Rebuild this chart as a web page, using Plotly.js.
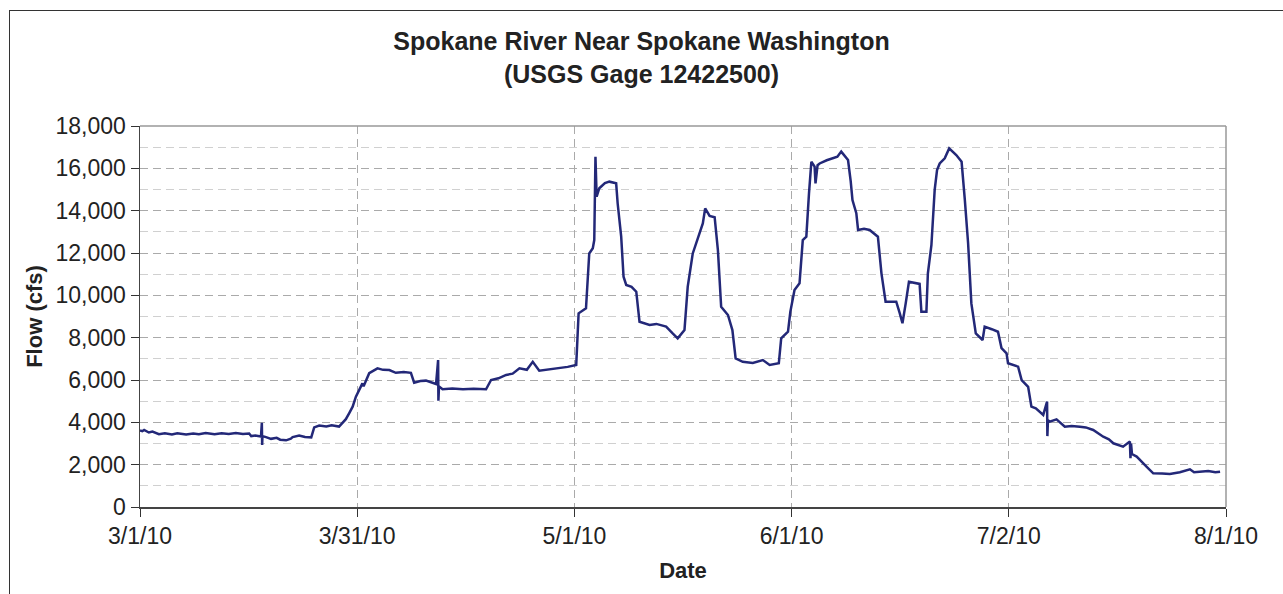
<!DOCTYPE html>
<html>
<head>
<meta charset="utf-8">
<script src="https://cdn.plot.ly/plotly-3.0.1.min.js"></script>
<style>
  html, body { margin: 0; padding: 0; background: #fff; overflow: hidden; }
  #chart { width: 1283px; height: 594px; }
  #frame { position: absolute; left: 9px; top: 10px; width: 2000px; height: 2000px;
           border-top: 1px solid #333; border-left: 1px solid #333; pointer-events: none; }
</style>
</head>
<body>
<div id="chart"></div>
<div id="frame"></div>
<script>
const dates = [
'2010-03-01 00:00','2010-03-01 08:00','2010-03-01 14:00','2010-03-02 06:00','2010-03-02 18:00',
'2010-03-03 16:00','2010-03-04 12:00','2010-03-05 12:00','2010-03-06 06:00','2010-03-07 12:00',
'2010-03-08 12:00','2010-03-09 07:00','2010-03-10 06:00','2010-03-11 12:00','2010-03-12 12:00',
'2010-03-13 12:00','2010-03-14 12:00','2010-03-15 12:00','2010-03-16 09:00','2010-03-16 16:00',
'2010-03-17 06:00','2010-03-18 01:00','2010-03-18 04:00','2010-03-18 05:00','2010-03-18 06:00',
'2010-03-18 18:00','2010-03-19 11:00','2010-03-20 06:00','2010-03-20 18:00','2010-03-21 14:00',
'2010-03-22 06:00','2010-03-22 12:00','2010-03-23 10:00','2010-03-24 06:00','2010-03-25 03:00',
'2010-03-25 13:00','2010-03-26 06:00','2010-03-27 06:00','2010-03-28 00:00','2010-03-29 01:00',
'2010-03-30 00:00','2010-03-30 12:00','2010-03-30 23:00','2010-03-31 10:00','2010-04-01 08:00',
'2010-04-01 12:00','2010-04-02 07:00','2010-04-03 11:00','2010-04-04 06:00','2010-04-05 03:00',
'2010-04-06 01:00','2010-04-07 04:00','2010-04-08 04:00','2010-04-08 15:00','2010-04-09 12:00',
'2010-04-10 07:00','2010-04-11 17:00','2010-04-12 00:00','2010-04-12 01:00','2010-04-12 03:00',
'2010-04-12 15:00','2010-04-14 00:00','2010-04-15 12:00','2010-04-17 00:00','2010-04-18 18:00',
'2010-04-19 11:00','2010-04-20 12:00','2010-04-21 14:00','2010-04-22 12:00','2010-04-23 11:00',
'2010-04-24 12:00','2010-04-25 08:00','2010-04-26 06:00','2010-04-27 12:00','2010-04-29 02:00',
'2010-04-30 06:00','2010-05-01 11:00','2010-05-01 19:00','2010-05-02 20:00','2010-05-03 07:00',
'2010-05-03 19:00','2010-05-04 00:00','2010-05-04 04:00','2010-05-04 08:00','2010-05-04 17:00',
'2010-05-05 12:00','2010-05-06 03:00','2010-05-07 02:00','2010-05-07 07:00','2010-05-07 19:00',
'2010-05-08 03:00','2010-05-08 12:00','2010-05-09 06:00','2010-05-09 22:00','2010-05-10 09:00',
'2010-05-11 19:00','2010-05-12 18:00','2010-05-14 03:00','2010-05-15 01:00','2010-05-15 18:00',
'2010-05-16 17:00','2010-05-17 04:00','2010-05-17 21:00','2010-05-18 14:00','2010-05-19 07:00',
'2010-05-19 15:00','2010-05-20 06:00','2010-05-20 23:00','2010-05-21 10:00','2010-05-21 21:00',
'2010-05-22 20:00','2010-05-23 11:00','2010-05-23 22:00','2010-05-24 22:00','2010-05-26 08:00',
'2010-05-27 18:00','2010-05-28 17:00','2010-05-30 00:00','2010-05-30 08:00','2010-05-31 07:00',
'2010-05-31 15:00','2010-06-01 05:00','2010-06-01 22:00','2010-06-02 09:00','2010-06-02 21:00',
'2010-06-03 06:00','2010-06-03 14:00','2010-06-04 01:00','2010-06-04 04:00','2010-06-04 11:00',
'2010-06-04 18:00','2010-06-05 18:00','2010-06-06 15:00','2010-06-07 06:00','2010-06-07 19:00',
'2010-06-08 18:00','2010-06-09 03:00','2010-06-09 09:00','2010-06-09 22:00','2010-06-10 04:00',
'2010-06-11 00:00','2010-06-11 19:00','2010-06-12 23:00','2010-06-13 11:00','2010-06-14 01:00',
'2010-06-15 13:00','2010-06-16 01:00','2010-06-16 10:00','2010-06-16 21:00','2010-06-17 08:00',
'2010-06-18 20:00','2010-06-19 02:00','2010-06-19 19:00','2010-06-20 00:00','2010-06-20 12:00',
'2010-06-20 23:00','2010-06-21 07:00','2010-06-21 16:00','2010-06-22 09:00','2010-06-23 00:00',
'2010-06-24 00:00','2010-06-24 18:00','2010-06-25 05:00','2010-06-25 16:00','2010-06-26 03:00',
'2010-06-26 18:00','2010-06-27 17:00','2010-06-28 00:00','2010-06-29 00:00','2010-06-29 21:00',
'2010-06-30 09:00','2010-07-01 02:00','2010-07-01 07:00','2010-07-02 17:00','2010-07-03 05:00',
'2010-07-04 03:00','2010-07-04 14:00','2010-07-05 05:00','2010-07-06 06:00','2010-07-06 19:00',
'2010-07-06 20:00','2010-07-06 22:00','2010-07-07 04:00','2010-07-08 03:00','2010-07-09 07:00',
'2010-07-10 06:00','2010-07-11 10:00','2010-07-12 06:00','2010-07-13 07:00','2010-07-14 17:00',
'2010-07-15 12:00','2010-07-16 03:00','2010-07-17 12:00','2010-07-18 11:00','2010-07-18 13:00',
'2010-07-18 15:00','2010-07-18 18:00','2010-07-19 10:00','2010-07-20 20:00','2010-07-21 18:00',
'2010-07-23 00:00','2010-07-24 02:00','2010-07-25 12:00','2010-07-26 22:00','2010-07-27 12:00',
'2010-07-28 08:00','2010-07-29 12:00','2010-07-30 12:00','2010-07-31 04:00'
];
const flowCfs = [
3620,3580,3640,3520,3560,
3440,3480,3430,3480,3420,
3470,3440,3490,3440,3480,
3450,3490,3450,3470,3350,
3380,3330,3980,2930,3350,
3300,3220,3270,3180,3150,
3230,3300,3380,3310,3290,
3760,3850,3800,3860,3800,
4150,4450,4740,5210,5840,
5700,6320,6550,6480,6470,
6340,6380,6340,5870,5950,
5970,5810,6940,5020,5700,
5560,5600,5560,5590,5560,
6000,6080,6240,6300,6550,
6480,6860,6440,6500,6550,
6620,6710,9150,9390,11980,
12220,12610,16550,14660,15060,
15300,15370,15290,14350,12770,
10880,10490,10400,10170,8750,
8600,8650,8520,8200,7970,
8360,10410,11980,12690,13400,
14110,13750,13690,12140,9460,
9070,8360,7020,6860,6800,
6940,6710,6790,7970,8280,
9230,10250,10570,12610,12770,
14820,16310,16080,15290,16150,
16230,16380,16470,16550,16790,
16390,15400,14500,13880,13090,
13150,13090,12770,11040,9700,
9700,9150,8680,9620,10640,
10540,9230,9230,11040,12380,
14980,15920,16230,16470,16940,
16630,16310,14500,12460,9620,
8200,7890,8520,8400,8280,
7500,7260,6790,6630,6000,
5680,4740,4660,4350,4980,
3350,4100,4030,4140,3790,
3830,3790,3760,3640,3320,
3200,3010,2850,3090,2300,
3000,2500,2380,1900,1590,
1580,1560,1640,1780,1640,
1670,1700,1640,1670
];
const xTickVals = ['2010-03-01 00:00','2010-03-31 14:24','2010-05-01 04:48','2010-05-31 19:12','2010-07-01 09:36','2010-08-01 00:00'];
const xTickText = ['3/1/10','3/31/10','5/1/10','6/1/10','7/2/10','8/1/10'];
const yTickVals = [0,2000,4000,6000,8000,10000,12000,14000,16000,18000];
const yTickText = ['0','2,000','4,000','6,000','8,000','10,000','12,000','14,000','16,000','18,000'];

const FONT = 'Liberation Sans, Arial, sans-serif';

const trace = {
  x: dates, y: flowCfs, type: 'scatter', mode: 'lines',
  line: { color: '#232878', width: 2.5 },
  hoverinfo: 'x+y', showlegend: false
};

const layout = {
  width: 1283, height: 594,
  margin: { l: 140, r: 57, t: 126, b: 87 },
  paper_bgcolor: '#ffffff', plot_bgcolor: '#ffffff',
  font: { family: FONT, size: 23, color: '#222' },
  title: {
    text: '<b>Spokane River Near Spokane Washington<br>(USGS Gage 12422500)</b>',
    font: { family: FONT, size: 25, color: '#222' },
    xref: 'container', x: 0.5, xanchor: 'center',
    yref: 'container', y: 1 - 50/594, yanchor: 'top'
  },
  xaxis: {
    type: 'date',
    range: ['2010-03-01 00:00', '2010-08-01 00:00'],
    tickmode: 'array', tickvals: xTickVals, ticktext: xTickText,
    ticks: 'outside', ticklen: 8, tickwidth: 1, tickcolor: '#333',
    showline: true, linecolor: '#444', linewidth: 1.5,
    showgrid: true, gridcolor: '#aaaaaa', gridwidth: 1, griddash: '8px,5px',
    zeroline: false,
    tickfont: { family: FONT, size: 23, color: '#222' },
    title: { text: '<b>Date</b>', font: { family: FONT, size: 22, color: '#222' }, standoff: 14 }
  },
  yaxis: {
    range: [0, 18000],
    tickmode: 'array', tickvals: yTickVals, ticktext: yTickText,
    ticks: 'outside', ticklen: 8, tickwidth: 1, tickcolor: '#333',
    showline: true, linecolor: '#444', linewidth: 1.5,
    showgrid: true, gridcolor: '#aaaaaa', gridwidth: 1, griddash: '8px,5px',
    minor: { dtick: 1000, showgrid: true, gridcolor: '#d0d0d0', gridwidth: 1, griddash: '8px,5px', ticks: '' },
    zeroline: false,
    tickfont: { family: FONT, size: 23, color: '#222' },
    title: { text: '<b>Flow (cfs)</b>', font: { family: FONT, size: 22, color: '#222' }, standoff: 7 }
  },
  shapes: [
    { type: 'line', xref: 'paper', yref: 'paper', x0: 0, x1: 1, y0: 1, y1: 1, line: { color: '#999', width: 1.5 }, layer: 'above' },
    { type: 'line', xref: 'paper', yref: 'paper', x0: 1, x1: 1, y0: 0, y1: 1, line: { color: '#999', width: 1.5 }, layer: 'above' }
  ]
};

Plotly.newPlot('chart', [trace], layout, { staticPlot: true, displayModeBar: false });
</script>
</body>
</html>
